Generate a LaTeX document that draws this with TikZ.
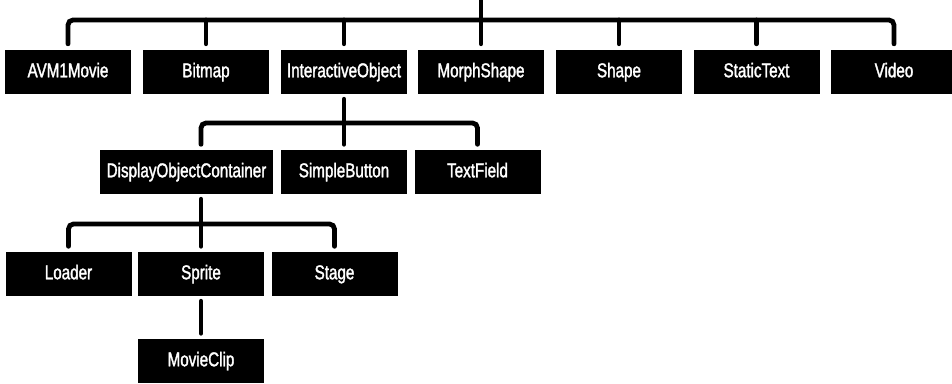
\documentclass[tikz,border=0pt]{standalone}
\usepackage{fontspec}
\setmainfont[FakeStretch=0.76,FakeBold=1.6]{Liberation Sans}
\usetikzlibrary{calc}
\begin{document}
\begin{tikzpicture}[x=1pt,y=1pt,
  cls/.style={fill=black,text=white,minimum width=126pt,minimum height=44pt,
    inner sep=0pt,text height=14pt,text depth=3.5pt,font=\fontsize{20}{22}\selectfont},
  conn/.style={line width=4.8pt,line cap=round,rounded corners=5pt}]
\clip (0,0) rectangle (952,-383);
% level 1
\node[cls] (avm)    at (68,-72)    {AVM1Movie};
\node[cls] (bitmap) at (206,-72)   {Bitmap};
\node[cls] (io)     at (344,-72)   {InteractiveObject};
\node[cls] (morph)  at (481,-72)   {MorphShape};
\node[cls] (shape)  at (619,-72)   {Shape};
\node[cls] (st)     at (756.5,-72) {StaticText};
\node[cls] (video)  at (894,-72)   {Video};
% level 2
\node[cls,minimum width=173pt] (doc) at (186.5,-172) {DisplayObjectContainer};
\node[cls] (sb) at (344,-172)   {SimpleButton};
\node[cls] (tf) at (477.5,-172) {TextField};
% level 3
\node[cls] (loader) at (68.5,-274)  {Loader};
\node[cls] (sprite) at (201,-274)   {Sprite};
\node[cls] (stage)  at (334.5,-274) {Stage};
% level 4
\node[cls] (mc) at (201,-361) {MovieClip};
% connectors level 1
\coordinate (root) at (481,2);
\coordinate (bar1) at (481,-20);
\draw[conn] ([yshift=6pt]avm.north) |- (bar1) -| ([yshift=6pt]video.north);
\foreach \n in {bitmap,io,shape,st}
  \draw[conn] ([yshift=6pt]\n.north) -- (\n.north |- bar1);
\draw[conn] (root) -- ([yshift=6pt]morph.north);
% level 2
\coordinate (bar2) at (344,-123);
\draw[conn] ($(sprite.north |- doc.north)+(0,5.5)$) |- (bar2) -| ([yshift=5.5pt]tf.north);
\draw[conn] ([yshift=-5pt]io.south) -- ([yshift=5.5pt]sb.north);
% level 3
\coordinate (bar3) at (201,-224);
\draw[conn] ([yshift=5.5pt]loader.north) |- (bar3) -| ([yshift=5.5pt]stage.north);
\draw[conn] ($(sprite.north |- doc.south)+(0,-5)$) -- ([yshift=5.5pt]sprite.north);
% level 4
\draw[conn] ([yshift=-5pt]sprite.south) -- ([yshift=5.5pt]mc.north);
\end{tikzpicture}
\end{document}
